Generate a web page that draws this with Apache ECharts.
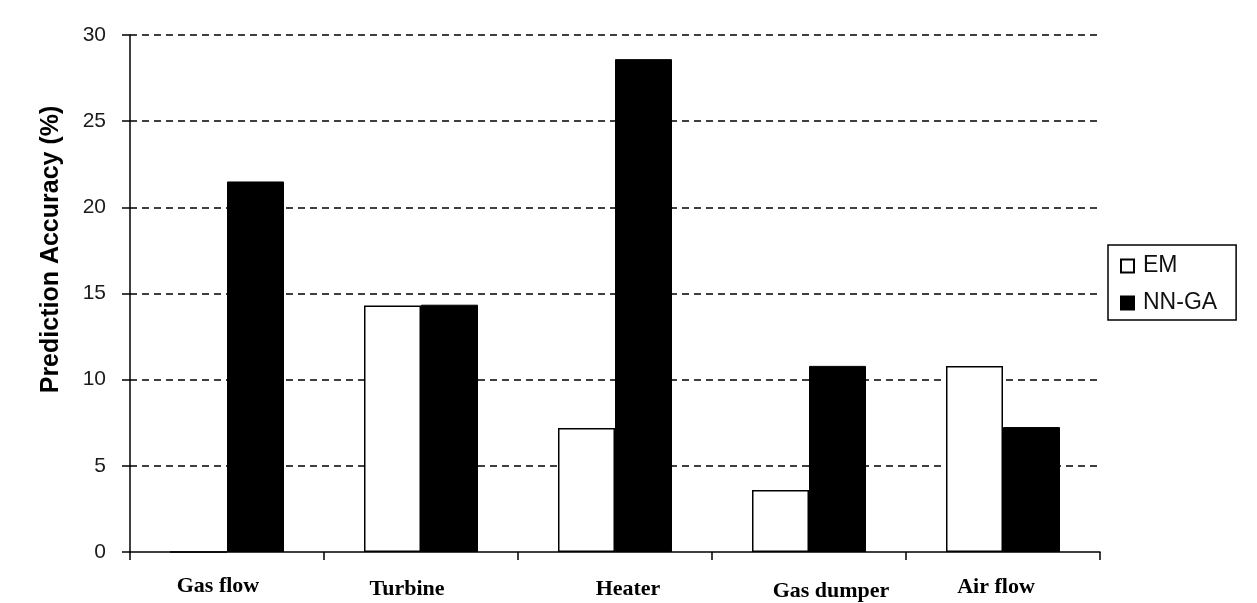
<!DOCTYPE html>
<html>
<head>
<meta charset="utf-8">
<script src="https://cdn.jsdelivr.net/npm/echarts@6/dist/echarts.min.js"></script>
<style>
html,body{margin:0;padding:0;background:#fff;}
#chart{width:1257px;height:603px;}
</style>
</head>
<body>
<div id="chart"></div>
<script>
var categories = ['Gas flow', 'Turbine', 'Heater', 'Gas dumper', 'Air flow'];
var emValues = [0, 14.3, 7.2, 3.6, 10.8];
var nnGaValues = [21.5, 14.35, 28.6, 10.8, 7.25];
var seriesNames = ['EM', 'NN-GA'];
var yTicks = [0, 5, 10, 15, 20, 25, 30];

// per-label nudges (styling only): [dx, dy]
var labelNudge = [[-9, 0], [-14, 3], [13, 3], [22, 5], [-7, 1]];

var catData = categories.map(function (c, i) {
  var dx = labelNudge[i][0], dy = labelNudge[i][1];
  var pad = [dy, dx < 0 ? -2 * dx : 0, 0, dx > 0 ? 2 * dx : 0];
  return { value: c, textStyle: { padding: pad } };
});

var chart = echarts.init(document.getElementById('chart'), null, { renderer: 'canvas' });
chart.setOption({
  animation: false,
  backgroundColor: '#ffffff',
  grid: { left: 130, right: 157, top: 35, bottom: 51, containLabel: false },
  legend: {
    orient: 'vertical',
    left: 1108,
    top: 245,
    padding: [9, 19, 5, 12],
    itemWidth: 13,
    itemHeight: 13,
    itemGap: 13,
    borderColor: '#000',
    borderWidth: 1.5,
    icon: 'rect',
    data: seriesNames,
    textStyle: {
      fontFamily: 'Liberation Sans, Arial, sans-serif',
      fontSize: 23,
      color: '#111',
      lineHeight: 24,
      padding: [0, 0, 0, 4]
    }
  },
  xAxis: {
    type: 'category',
    data: catData,
    axisLine: { lineStyle: { color: '#000', width: 1.5 } },
    axisTick: { show: true, length: 8, lineStyle: { color: '#000', width: 1.5 } },
    axisLabel: {
      margin: 23,
      verticalAlign: 'top',
      fontFamily: 'Liberation Serif, Times New Roman, serif',
      fontWeight: 'bold',
      fontSize: 22,
      color: '#000'
    },
    splitLine: { show: false }
  },
  yAxis: {
    type: 'value',
    min: yTicks[0],
    max: yTicks[yTicks.length - 1],
    interval: 5,
    name: 'Prediction Accuracy (%)',
    nameLocation: 'middle',
    nameGap: 66,
    nameRotate: 90,
    nameTextStyle: {
      fontFamily: 'Liberation Sans, Arial, sans-serif',
      fontWeight: 'bold',
      fontSize: 25,
      color: '#000',
      padding: [0, 0, 0, 88]
    },
    axisLine: { show: true, lineStyle: { color: '#000', width: 1.5 } },
    axisTick: { show: true, inside: false, length: 8, lineStyle: { color: '#000', width: 1.5 } },
    axisLabel: {
      margin: 24,
      fontFamily: 'Liberation Sans, Arial, sans-serif',
      fontSize: 21,
      color: '#1a1a1a'
    },
    splitLine: { show: true, showMinLine: false, lineStyle: { color: '#000', width: 1.5, type: [7, 5] } }
  },
  series: [
    {
      name: seriesNames[0],
      type: 'bar',
      data: emValues,
      barWidth: 57,
      barGap: '0%',
      itemStyle: { color: '#ffffff', borderColor: '#000', borderWidth: 1.5 }
    },
    {
      name: seriesNames[1],
      type: 'bar',
      data: nnGaValues,
      barWidth: 57,
      barGap: '0%',
      itemStyle: { color: '#000000', borderColor: '#000', borderWidth: 1 }
    }
  ]
});
</script>
</body>
</html>
